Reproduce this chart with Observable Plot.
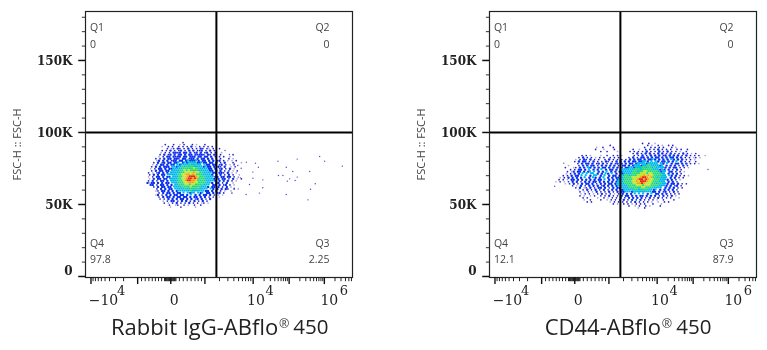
<!DOCTYPE html>
<html><head><meta charset="utf-8">
<script src="https://cdn.jsdelivr.net/npm/d3@7"></script>
<script src="https://cdn.jsdelivr.net/npm/@observablehq/plot@0.6"></script>
<style>
html,body{margin:0;padding:0;background:#fff}
#c{position:relative;width:767px;height:350px;overflow:hidden}
#c>div{position:absolute;top:0}
svg{display:block;filter:blur(.35px)}
</style></head><body><div id="c"><div id="a" style="left:0"></div><div id="b" style="left:404px"></div></div>
<script>
// density maps: each character is one 8-channel x 1.4K bin, digit = density level
const densityLeft = [
"                 1                            ",
"        1   1  . 1   1 .   1                  ",
"       .  1 1  1 1 1 2 . 1 1 1 1              ",
"         1 .1 21 1 2 1 1 21 1. 1  1           ",
"       1 1 2 1 12 1 2 2 112 1 2 1             ",
"      . 1 1 2212 22 2 12 2 12 1 1  .          ",
"      1 2 12 2 22 2 22 21221 21 21 1     1    ",
"     . 1 22 2122 22 222 22 22 2 1 1 1  .      ",
"    1 1 2 22 221 22 122 2 22 2 2 1 1   1 .    ",
"    .2 2 2 122 22 2322232 22 2 2 12 1 . . 1   ",
"   1 2 12 22 223 232333322322 22 2 1 2   1   .",
"  . 1 22 2 22 323333433433 322 22 12 1 . 1    ",
"  1 2 2 222 3323343434433332322 2 21 2  . 1   ",
" . 1 22 2 223333344444544333322 2 12 1 2 .    ",
"  1 2 22 22 33334454544443333322 2 2 1 1 . 1  ",
"1 . 12 2 2 3333344555565544333322 221 2 . .   ",
" 1 2 2 22 3333344556656544433332 2 2 1 2 1  . ",
". 1 22 2 22 3334455677765444333322 22 22 1    ",
" . 2 22 22 3333445567767644433332 2 22 1 2 . 1",
"1 2 1 22 2 3333445677665444433332 2 2 2 1 .   ",
"2.22 2 2 22 33344455666554444332 22 1 2  .    ",
" 22 1 22 2 2 33444554554444333 22 2 12 1 .    ",
"   1 2 22 22 33334444544443332 22 2 1 2 .     ",
"    1 2 2 22 3333343444443333 32 2 2 21  1 .  ",
"    .1 22 2 2 2333333433333322 2 2 1 .  .     ",
"     1 2 22 2 22 3 3233 323 22 2 12 1   .     ",
"    .2 1 2 2 22 22 2 3 2 2 22 2 1 . .         ",
"     1 2 22 2 22 22 2 22 2 2 1 1  .           ",
"      1 1 2 2 2 22 2 2 12 2 1 2  .            ",
"       . 1 22 1 2 2 1 2 1 2 1                 ",
"        1 . 1 2 1 1 2 1 1 .1 .                ",
"          1  .1  1 .  1  1                    ",
"           .    1      .                      "
];
const densityRight = [
"                                             1  1  .                  ",
"                             1                 1 .  1 .  1 1            ",
"                       .  1    1              1  1 1 1 1   1 .          ",
"                      1   .    1        1  .  1 1 1 2 1 1 1  1 1  1     ",
"                         1  1    .     1 1 1 1 2 1 1 2 1 2 1 1 .  1     ",
"                                        1 2 1 2 2 1 2 2 1 2 1 1 2 1 . 1 ",
"                1 1 .    .  1  1 1 .     1 1 2 1 2 2 2 12 2 2 2 1 2 1 1 1  .",
"              1 2 1 1 . 1 1  1 1 1    1 2 1 22 2 2 22 2 2 22 2 2 1 1 .1 .",
"             . 1 21 2 1 1  1 2 1 1 1 1 2 2 22 2 2232 2 2 2 32 2 2 1 1 .",
"            1 2 22 1 2 1 1 21 1 2 2 2 2 22 22332 3 32 22 2 2 3 2 1 1  1",
"              1 2 22 2 12 2 1 2 12 2 2 22 23333233333 32 3 2 22 2 2 1 1 .",
"         .    1 2 2 22 1 2 2 2 2 1 22 2 233323344333323 2 2 2 1 2 1",
"        1   .1 2 2 32 2 2 22 2 2 2 2 22332333443443433332 2 22 1 1 .",
"          1 1 22 2 3 2 2 3 2 22 2 2333333444344444333232 2 1 2 1",
"         1 .2 22 2 23 3 2 2 3 2 2 22333334434455444443233 22 1 1 .",
"        . 1 2 2 3 3 33 2 2 32 3 2 2233334444555455444433 2 2 2 1",
"       1 1 2 22 3 3 2 33 2 3 2 22 23344344455565655444433 32 2 1 1 .",
"     . 1 2 2 2 2 3 2 32 2 3 2 2 2233444455556776564434333 2 2 1 1",
"     1 1 . 22 2 2 2 2 2 22 3 2 2 2333444455677676554443332 2 1 .",
"   . 1 . 1 2 2 1 2 2 22 2 2 2 2 233344445565777655444333 2 2 1",
"        . 1 2 1 2 22 2 1 2 2 22 23333444455667655544344332 22 2 1 1",
"           1 . 2 1 2 2 2 12 2 2 2333334444555455544443332 2 12 1",
"             1 2 .1 2 1 22 2 1 2 2233334444445544443333 2 2 2 1 1",
"              . 1 2 1 2 1 2 1 2 2 223333344344443323 2 2 2 2 1",
"               1 . 1 . 2 1 1 2 1 2 22333233333333322 2 12 1 2 1",
"               . 1 1 . 1 2 1 1 . 1 2 2 2 3 3 3 2 3 22 2 2 1 1 1",
"               1 .  . 1  1 1 2 1 1 2 22 2 2 22 2 2 2 1 2 1 2 .",
"                1 1    .  1 . 1 1 2 1 2 2 2 2 1 2 1 2 1 1 1   .",
"                 .  1    1  . 1 1 1 2 1 2 1 2 1 1 1 .  1    1",
"                  1 1        . 1 1 1 1 1 2 1 1 1 .  .  1 1",
"                               1 .  1 1 . 1 1 1   1   .",
"                                      1  . 1  1 .    1",
"                                           .  1"
];
// sparse events: channel, FSC-H (K)
const sparseLeftX = [617,652,663,642,680,642,629,680,616,667,738,770,795,740,757,812,774,783,804,860,881,863,853,770,898,917,812,985,594,586,571,584,597,561,571,535,552];
const sparseLeftY = [79.4,78.7,75.9,72.5,67.1,68.3,63.9,61.6,56.9,57.9,80.1,75.9,72.9,70.1,70.1,69,66.2,67.8,66.7,72.9,64.4,60.6,53.2,56.9,83.3,80.1,81.5,76.6,68.5,69,78.2,77.1,75.2,57.9,61.3,87.5,84.7];
const sparseRightX = [250,838,285];
const sparseRightY = [62.7,74.3,78.7];

const levels = [".","1","2","3","4","5","6","7"];
const levelColors = ["#aaa8dd","#2420cc","#0a30ee","#00b8e8","#20d878","#b8e628","#ff9a10","#e02a10"];

const xMajor = [21,200,327,458,643,781,916];
const xMinor = [29,38,49,61,75,92,115,146,215,229,243,256,268,280,292,303,307,310,313,316,319,322,325,329,332,335,338,341,344,347,360,375,390,405,420,432,445,514,546,569,587,602,614,625,634,685,709,726,739,750,759,767,774,822,845,862,875,886,895,903,910,957,980,997,1010,1020];
const yMajor = [0,50,100,150];
const yMinor = [10,20,30,40,60,70,80,90,110,120,130,140,160,170,180];
const gateX = 502, gateY = 100;

const panels = [
 {id:"a", width:404, marginRight:52, grid:densityLeft, x0:238, top:93, sx:sparseLeftX, sy:sparseLeftY,
  q:["0","0","97.8","2.25"], title:["Rabbit IgG-ABflo","450"], titleEnd:739, regX:742, restX:797},
 {id:"b", width:363, marginRight:11, grid:densityRight, x0:227, top:92.4, sx:sparseRightX, sy:sparseRightY,
  q:["0","0","12.1","87.9"], title:["CD44-ABflo","450"], titleEnd:658, regX:661, restX:716}
];
const serif = "'DejaVu Serif'", sans = "'Open Sans'";

function draw(p){
  const cells = [];
  p.grid.forEach((row,r)=>[...row].forEach((ch,c)=>{
    if(ch!==" ") cells.push({x:p.x0+8*c+4*(r%2), y:p.top-1.4*r, l:ch});
  }));
  const sparse = p.sx.map((x,i)=>({x, y:p.sy[i]}));
  const yLabels = yMajor.slice(1);
  const low = cells.filter(d=>".12".includes(d.l)), high = cells.filter(d=>!".12".includes(d.l));
  return Plot.plot({
    width:p.width, height:350, marginLeft:85, marginRight:p.marginRight, marginTop:11, marginBottom:73,
    style:{background:"#fff", overflow:"visible"},
    x:{domain:[0,1024], axis:null},
    y:{domain:[-0.7,184], axis:null},
    color:{domain:levels, range:levelColors, type:"ordinal"},
    r:{type:"identity"},
    marks:[
      Plot.dot(low,{x:"x", y:"y", r:d=>d.l==="2"?1.2:0.85, fill:"l"}),
      Plot.rect(high,{x1:d=>d.x-4, x2:d=>d.x+4, y1:d=>d.y-.7, y2:d=>d.y+.7, fill:"l"}),
      Plot.dot(sparse,{x:"x", y:"y", r:.7, fill:"#4a46cc"}),
      Plot.ruleX([gateX],{stroke:"#000", strokeWidth:2}),
      Plot.ruleY([gateY],{stroke:"#000", strokeWidth:2}),
      Plot.frame({stroke:"#222", strokeWidth:1.2}),
      Plot.ruleX(xMinor,{x:d=>d, y1:-0.7, y2:-3.6, stroke:"#222", strokeWidth:1}),
      Plot.ruleX(xMajor,{x:d=>d, y1:-0.7, y2:-5.6, stroke:"#111", strokeWidth:1.4}),
      Plot.ruleY(yMinor,{y:d=>d, x1:-12, x2:0, stroke:"#333", strokeWidth:1}),
      Plot.ruleY(yMajor,{y:d=>d, x1:-26, x2:0, stroke:"#111", strokeWidth:1.5}),
      Plot.text(yLabels,{x:0, y:d=>d, dx:-13, dy:1, text:d=>d+"K", textAnchor:"end", fontFamily:serif, fontWeight:"bold", fontSize:12, fill:"#222"}),
      Plot.text(["0"],{x:0, y:0, dx:-13, dy:-5, textAnchor:"end", fontFamily:serif, fontWeight:"bold", fontSize:12, fill:"#222"}),
      Plot.text(["\u221210","0","10","10"],{x:[69,340,654,935], y:[-16.5,-16.5,-16.5,-16.5], fontFamily:serif, fontSize:14, fill:"#222"}),
      Plot.text(["4","4","6"],{x:[137,706,991], y:[-10,-10,-10], fontFamily:serif, fontSize:13, fill:"#222"}),
      Plot.text(["Q1",p.q[0]],{x:17, y:[172.5,161], textAnchor:"start", fontFamily:sans, fontSize:10.5, fill:"#444"}),
      Plot.text(["Q2",p.q[1]],{x:936, y:[172.5,161], textAnchor:"end", fontFamily:sans, fontSize:10.5, fill:"#444"}),
      Plot.text(["Q4",p.q[2]],{x:17, y:[22.9,11.8], textAnchor:"start", fontFamily:sans, fontSize:10.5, fill:"#444"}),
      Plot.text(["Q3",p.q[3]],{x:936, y:[22.9,11.8], textAnchor:"end", fontFamily:sans, fontSize:10.5, fill:"#444"}),
      Plot.text(["FSC-H :: FSC-H"],{x:-260, y:91.7, rotate:-90, fontFamily:sans, fontSize:11, fill:"#444"}),
      Plot.text([p.title[0]],{x:p.titleEnd, y:-35.5, textAnchor:"end", fontFamily:sans, fontSize:22, fill:"#222"}),
      Plot.text(["\u00AE"],{x:p.regX, y:-33, textAnchor:"start", fontFamily:sans, fontSize:12.5, fill:"#444"}),
      Plot.text([p.title[1]],{x:p.restX, y:-35.5, textAnchor:"start", fontFamily:sans, fontSize:20.5, fill:"#222"})
    ]
  });
}
for(const p of panels) document.getElementById(p.id).appendChild(draw(p));
</script></body></html>
